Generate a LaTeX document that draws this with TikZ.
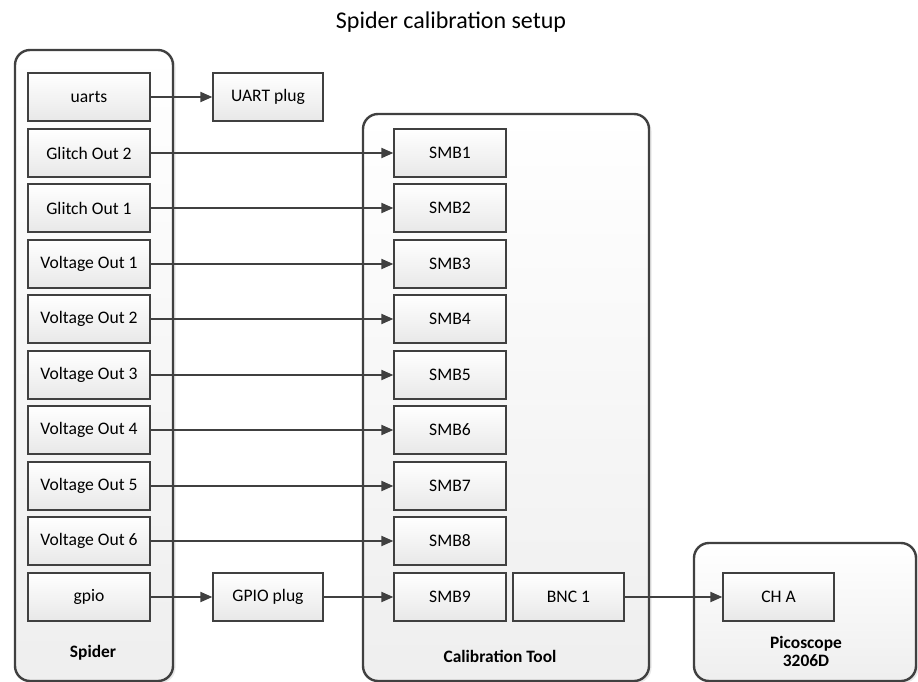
\documentclass[tikz,border=0pt]{standalone}
\usepackage{fontspec}
\setmainfont{Carlito}
\usetikzlibrary{arrows.meta,shadows}

\definecolor{edgegray}{HTML}{404040}

\begin{document}
\begin{tikzpicture}[x=1pt, y=-1pt,
		container/.style={draw=edgegray, line width=2.4pt, rounded corners=15pt,
			top color=white, bottom color=gray!13,
			drop shadow={shadow xshift=2.5pt, shadow yshift=-2pt, opacity=0.18, fill=gray}},
		port/.style={draw=edgegray, line width=1.3pt, top color=white, bottom color=gray!18,
			minimum height=48pt, inner sep=0pt,
			font=\fontsize{17.6}{20}\selectfont},
		sport/.style={port, minimum width=122pt},
		mport/.style={port, minimum width=112pt},
		plug/.style={port, minimum width=110pt},
		caption/.style={font=\fontsize{17.4}{18}\selectfont\bfseries, align=center, inner sep=0pt},
		conn/.style={draw=edgegray, line width=2pt, -{Triangle[length=12pt, width=10pt]}}]
	\useasboundingbox (0,0) rectangle (918,682);

	\node[font=\fontsize{24}{28}\selectfont] (title) at (451,22) {Spider calibration setup};

	% the three units
	\path (94,365.5) node[container, minimum width=158pt, minimum height=631pt] (spider){}
		(506,397.5) node[container, minimum width=286pt, minimum height=567pt] (caltool){}
		(805,612) node[container, minimum width=222pt, minimum height=138pt] (pico){};

	\path (93,653) node[caption] (spiderlbl){Spider}
		(500,656) node[caption] (callbl){Calibration Tool}
		(806,651) node[caption] (picolbl){Picoscope\\3206D};

	% spider ports
	\path (89,97) node[sport] (s0){uarts}
		(89,153) node[sport] (s1){Glitch Out 2}
		(89,208) node[sport] (s2){Glitch Out 1}
		(89,264) node[sport] (s3){Voltage Out 1}
		(89,319) node[sport] (s4){Voltage Out 2}
		(89,375) node[sport] (s5){Voltage Out 3}
		(89,430) node[sport] (s6){Voltage Out 4}
		(89,486) node[sport] (s7){Voltage Out 5}
		(89,541) node[sport] (s8){Voltage Out 6}
		(89,597) node[sport] (s9){gpio};

	% plugs
	\path (268,97) node[plug] (uplug){UART plug}
		(268,597) node[plug] (gplug){GPIO plug};

	% calibration tool connectors
	\path (450,153) node[mport] (m1){SMB1}
		(450,208) node[mport] (m2){SMB2}
		(450,264) node[mport] (m3){SMB3}
		(450,319) node[mport] (m4){SMB4}
		(450,375) node[mport] (m5){SMB5}
		(450,430) node[mport] (m6){SMB6}
		(450,486) node[mport] (m7){SMB7}
		(450,541) node[mport] (m8){SMB8}
		(450,597) node[mport] (m9){SMB9}
		(568.5,597) node[port, minimum width=111pt] (bnc){BNC 1};

	\path (778.5,597) node[port, minimum width=111pt] (cha){CH A};

	\draw[conn] (s0) -- (uplug);
	\draw[conn] (s1) -- (m1);
	\draw[conn] (s2) -- (m2);
	\draw[conn] (s3) -- (m3);
	\draw[conn] (s4) -- (m4);
	\draw[conn] (s5) -- (m5);
	\draw[conn] (s6) -- (m6);
	\draw[conn] (s7) -- (m7);
	\draw[conn] (s8) -- (m8);
	\draw[conn] (s9) -- (gplug);
	\draw[conn] (gplug) -- (m9);
	\draw[conn] (bnc) -- (cha);
\end{tikzpicture}
\end{document}
